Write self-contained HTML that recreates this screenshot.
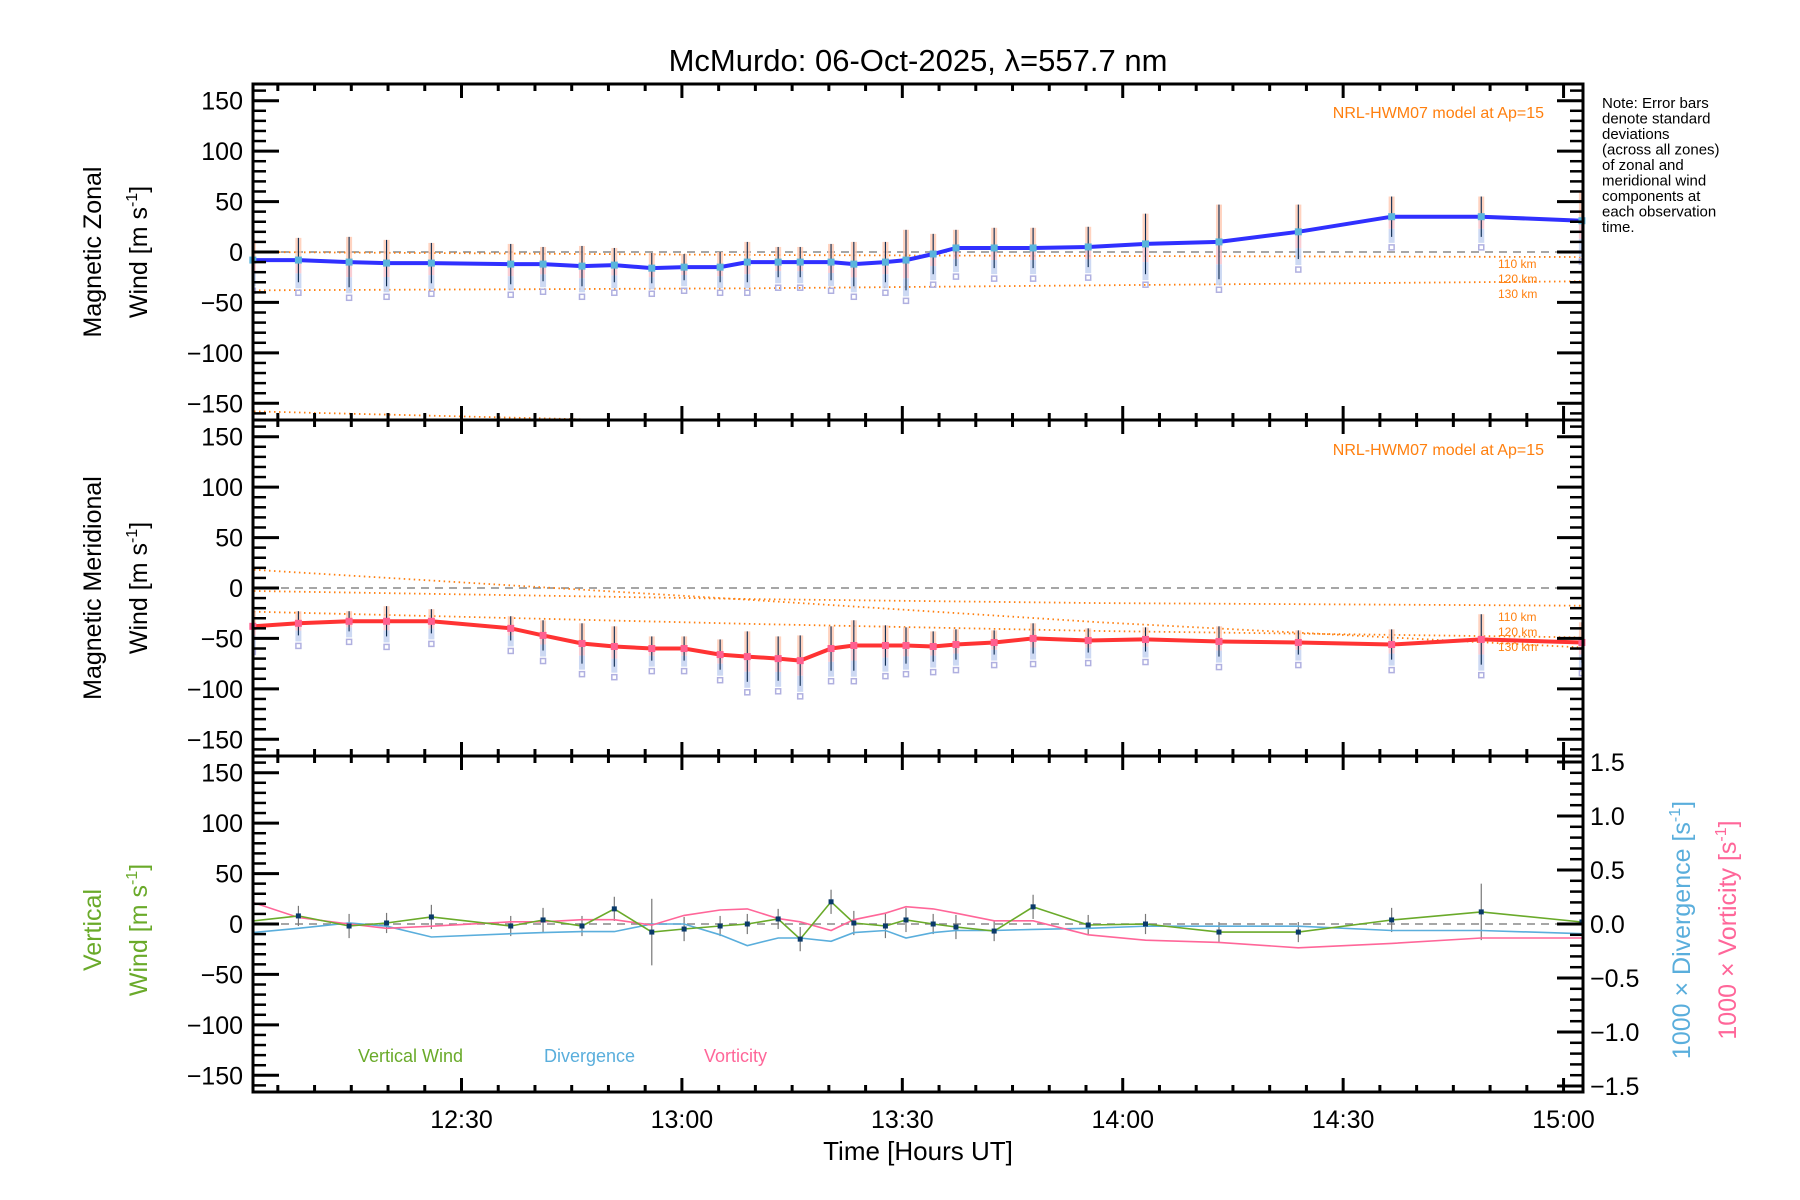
<!DOCTYPE html>
<html><head><meta charset="utf-8">
<style>
html,body{margin:0;padding:0;background:#fff;}
svg{display:block;font-family:"Liberation Sans",sans-serif;}
</style></head>
<body>
<svg id="chart" width="1800" height="1200" viewBox="0 0 1800 1200" xmlns="http://www.w3.org/2000/svg">
<rect x="0" y="0" width="1800" height="1200" fill="#fff"/>
<text x="918" y="71" font-size="31" text-anchor="middle" fill="#000">McMurdo: 06-Oct-2025, λ=557.7 nm</text>
<g font-size="15" fill="#000">
<text x="1602" y="108">Note: Error bars</text>
<text x="1602" y="123.5">denote standard</text>
<text x="1602" y="139">deviations</text>
<text x="1602" y="154.5">(across all zones)</text>
<text x="1602" y="170">of zonal and</text>
<text x="1602" y="185.5">meridional wind</text>
<text x="1602" y="201">components at</text>
<text x="1602" y="216.5">each observation</text>
<text x="1602" y="232">time.</text>
</g>
<g id="plots"></g>
</svg>
<script>
// ---------- data ----------
const times = [1.6,7.8,14.7,19.8,25.9,36.7,41.1,46.4,50.8,55.9,60.3,65.2,68.9,73.1,76.1,80.3,83.4,87.7,90.5,94.2,97.3,102.5,107.8,115.3,123.1,133.1,143.9,156.6,168.8,182.5];
const zonal = [-8,-8,-10,-11,-11,-12,-12,-14,-13,-16,-15,-15,-10,-10,-10,-10,-12,-10,-8,-2,4,4,4,5,8,10,20,35,35,31];
const zonalErr = [20,22,25,23,20,20,17,20,17,15,13,15,20,15,15,18,22,20,30,20,18,20,20,20,30,37,27,20,20,30];
const merid = [-38,-35,-33,-33,-33,-40,-47,-55,-58,-60,-60,-66,-68,-70,-72,-60,-57,-57,-57,-58,-56,-54,-50,-52,-51,-53,-54,-56,-51,-54];
const meridErr = [15,12,10,15,12,12,15,20,20,12,12,15,25,22,25,22,25,20,18,15,15,12,15,12,12,15,12,15,25,20];
const vertical = [3,8,-2,1,7,-2,4,-2,15,-8,-5,-2,0,5,-15,22,1,-2,4,0,-3,-7,17,-1,0,-8,-8,4,12,2];
const vertErr = [0,10,12,10,12,10,12,10,12,33,12,10,10,10,12,12,12,12,12,10,12,10,12,10,10,10,10,12,28,10];
const divergence = [-0.08,-0.04,0.01,-0.02,-0.12,-0.09,-0.08,-0.07,-0.07,0.0,0.0,-0.1,-0.2,-0.13,-0.13,-0.16,-0.08,-0.06,-0.13,-0.08,-0.06,-0.06,-0.05,-0.04,-0.02,-0.02,-0.02,-0.06,-0.06,-0.09];
const vorticity = [0.2,0.06,0.0,-0.04,-0.02,0.02,0.02,0.04,0.04,-0.01,0.08,0.13,0.14,0.05,0.02,-0.06,0.04,0.1,0.16,0.14,0.1,0.03,0.03,-0.1,-0.15,-0.17,-0.22,-0.18,-0.13,-0.13];
// model curves (NRL-HWM07)
const modelTimes = [1.76,69.8,116.9,182.6];
const zonal110 = [0,-3,-4,-5];
const zonal120 = [-38,-36,-33,-29];
const zonal130 = [-158,-170,-180,-190];
const merid110 = [-3,-11,-15,-17.5];
const merid120 = [-23.5,-35.7,-42.6,-49];
const merid130 = [18,-12,-34,-59];
const yTicks = [150,100,50,0,-50,-100,-150];
const yTickLabels = ["150","100","50","0","−50","−100","−150"];
const rTicks = [1.5,1.0,0.5,0.0,-0.5,-1.0,-1.5];
const rTickLabels = ["1.5","1.0","0.5","0.0","−0.5","−1.0","−1.5"];
const xTicks = [30,60,90,120,150,180];
const xTickLabels = ["12:30","13:00","13:30","14:00","14:30","15:00"];

// ---------- scales ----------
const L = 253, R = 1583, PH = 336;
const tops = [84,420,756];
function X(m){ return 461.5 + (m-30)*7.347; }
function Y(v,p){ return tops[p] + 168 - v*1.0087; }
function YR(r){ return tops[2] + 168 - r*108; }

const NS = "http://www.w3.org/2000/svg";
const root = document.getElementById('plots');
function mk(tag, attrs, parent){
  const e = document.createElementNS(NS, tag);
  for (const k in attrs) e.setAttribute(k, attrs[k]);
  (parent||root).appendChild(e);
  return e;
}
function pts(xs, ys, p, right){
  return xs.map((m,i)=> X(m).toFixed(1)+','+(right?YR(ys[i]):Y(ys[i],p)).toFixed(1)).join(' ');
}

const defs = mk('defs',{});
for (let p=0;p<3;p++){
  const cp = mk('clipPath',{id:'clip'+p},defs);
  mk('rect',{x:L,y:tops[p],width:R-L,height:PH},cp);
}

for (let p=0;p<3;p++){
  const z = mk('line',{x1:L,x2:R,y1:Y(0,p),y2:Y(0,p),stroke:'#888',"stroke-width":1.5,"stroke-dasharray":"8,6"});
  
  
}
function modelLine(vals,p,name){
  const e = mk('polyline',{points:pts(modelTimes,vals,p),fill:'none',stroke:'#ff7f0e',"stroke-width":1.8,"stroke-dasharray":"1.5,3.5","clip-path":'url(#clip'+p+')'});
  
  
}
modelLine(zonal110,0,'zonal-model-110km');
modelLine(zonal120,0,'zonal-model-120km');
modelLine(zonal130,0,'zonal-model-130km');
modelLine(merid110,1,'meridional-model-110km');
modelLine(merid120,1,'meridional-model-120km');
modelLine(merid130,1,'meridional-model-130km');

function errBars(vals, errs, p, name){
  const g = mk('g',{"clip-path":'url(#clip'+p+')'});
  
  
  times.forEach((m,i)=>{
    const x = X(m), y1 = Y(vals[i]+errs[i],p), y2 = Y(vals[i]-errs[i],p);
    mk('rect',{x:x-3,y:y1,width:6,height:(y2-y1)*0.5,fill:'#ffc8b0',opacity:0.8},g);
    mk('rect',{x:x-3,y:y1+(y2-y1)*0.5,width:6,height:(y2-y1)*0.3,fill:'#f8c0c8',opacity:0.8},g);
    mk('rect',{x:x-3,y:y1+(y2-y1)*0.8,width:6,height:(y2-y1)*0.2+6,fill:'#c0d0f0',opacity:0.8},g);
    mk('rect',{x:x-2.5,y:y2+8,width:5,height:5,fill:'none',stroke:'#b0b0e0',"stroke-width":1.5},g);
    mk('line',{x1:x,x2:x,y1:y1,y2:y2,stroke:'#0a2a50',"stroke-width":1.1},g);
  });
  return g;
}
errBars(zonal, zonalErr, 0, 'zonal-error-bars');
errBars(merid, meridErr, 1, 'meridional-error-bars');

const zl = mk('polyline',{points:pts(times,zonal,0),fill:'none',stroke:'#3030ff',"stroke-width":4,"clip-path":'url(#clip0)'});


const ml = mk('polyline',{points:pts(times,merid,1),fill:'none',stroke:'#ff3333',"stroke-width":4,"clip-path":'url(#clip1)'});


times.forEach((m,i)=>{
  const d1 = mk('rect',{x:X(m)-3.5,y:Y(zonal[i],0)-3.5,width:7,height:7,fill:'#5ab4dc'});
  
  
  const d2 = mk('rect',{x:X(m)-3.5,y:Y(merid[i],1)-3.5,width:7,height:7,fill:'#ff6090'});
  
  
});

const vg = mk('g',{});


times.forEach((m,i)=>{
  if (!vertErr[i]) return;
  mk('line',{x1:X(m),x2:X(m),y1:Y(vertical[i]+vertErr[i],2),y2:Y(vertical[i]-vertErr[i],2),stroke:'#777',"stroke-width":1.2},vg);
});
const dl = mk('polyline',{points:pts(times,divergence,2,true),fill:'none',stroke:'#5aaedc',"stroke-width":1.6});


const vl = mk('polyline',{points:pts(times,vorticity,2,true),fill:'none',stroke:'#ff6699',"stroke-width":1.6});


const gl = mk('polyline',{points:pts(times,vertical,2),fill:'none',stroke:'#6aaa2a',"stroke-width":1.6});


times.forEach((m,i)=>{
  if (i===0) return;
  const s = mk('rect',{x:X(m)-2.5,y:Y(vertical[i],2)-2.5,width:5,height:5,fill:'#0a3a6a'});
  
  
});

for (let p=0;p<3;p++){
  const ax = mk('g',{stroke:'#000'});
  
  
  const T = tops[p], B = T+PH;
  mk('rect',{x:L,y:T,width:R-L,height:PH,fill:'none',"stroke-width":3},ax);
  for (let v=-160; v<=160; v+=10){
    const y = Y(v,p), major = v%50===0;
    const len = major?26:13;
    mk('line',{x1:L,x2:L+len,y1:y,y2:y,"stroke-width":major?3:2.5},ax);
    if (p<2) mk('line',{x1:R,x2:R-len,y1:y,y2:y,"stroke-width":major?3:2.5},ax);
  }
  if (p===2){
    for (let r=-15; r<=15; r++){
      const y = YR(r/10), major = r%5===0;
      mk('line',{x1:R,x2:R-(major?26:13),y1:y,y2:y,"stroke-width":major?3:2.5},ax);
    }
  }
  for (let m=5; m<=180; m+=5){
    const x = X(m), major = m%30===0;
    const len = major?14:7;
    mk('line',{x1:x,x2:x,y1:T,y2:T+len,"stroke-width":3},ax);
    mk('line',{x1:x,x2:x,y1:B,y2:B-len,"stroke-width":3},ax);
  }
  yTicks.forEach((v,i)=>{
    const t = mk('text',{x:243,y:Y(v,p)+9,"font-size":25,"text-anchor":"end",fill:'#000',stroke:'none'});
    t.textContent = yTickLabels[i];
    
    
  });
}
rTicks.forEach((r,i)=>{
  const t = mk('text',{x:1590,y:YR(r)+9,"font-size":25,fill:'#000'});
  t.textContent = rTickLabels[i];
  
  
});
xTicks.forEach((m,i)=>{
  const t = mk('text',{x:X(m),y:1128,"font-size":25,"text-anchor":"middle",fill:'#000'});
  t.textContent = xTickLabels[i];
  
  
});
</script>
<svg style="position:absolute;left:0;top:0" width="1800" height="1200" xmlns="http://www.w3.org/2000/svg" font-family="Liberation Sans, sans-serif">
<text x="918" y="1160" font-size="26" text-anchor="middle">Time [Hours UT]</text>
<g fill="#ff7f0e">
<text x="1544" y="118" font-size="16" text-anchor="end">NRL-HWM07 model at Ap=15</text>
<text x="1544" y="455" font-size="16" text-anchor="end">NRL-HWM07 model at Ap=15</text>
<text x="1498" y="268" font-size="12">110 km</text>
<text x="1498" y="283" font-size="12">120 km</text>
<text x="1498" y="298" font-size="12">130 km</text>
<text x="1498" y="621" font-size="12">110 km</text>
<text x="1498" y="636" font-size="12">120 km</text>
<text x="1498" y="651" font-size="12">130 km</text>
</g>
<text transform="translate(101,252) rotate(-90)" font-size="25" text-anchor="middle">Magnetic Zonal</text>
<text transform="translate(147,252) rotate(-90)" font-size="25" text-anchor="middle">Wind [m s<tspan dy="-10" font-size="16">-1</tspan><tspan dy="10">]</tspan></text>
<text transform="translate(101,588) rotate(-90)" font-size="25" text-anchor="middle">Magnetic Meridional</text>
<text transform="translate(147,588) rotate(-90)" font-size="25" text-anchor="middle">Wind [m s<tspan dy="-10" font-size="16">-1</tspan><tspan dy="10">]</tspan></text>
<text transform="translate(101,930) rotate(-90)" font-size="25" text-anchor="middle" fill="#6aaa2a">Vertical</text>
<text transform="translate(147,930) rotate(-90)" font-size="25" text-anchor="middle" fill="#6aaa2a">Wind [m s<tspan dy="-10" font-size="16">-1</tspan><tspan dy="10">]</tspan></text>
<text transform="translate(1690,930) rotate(-90)" font-size="25" text-anchor="middle" fill="#5aaedc">1000 × Divergence [s<tspan dy="-10" font-size="16">-1</tspan><tspan dy="10">]</tspan></text>
<text transform="translate(1736,930) rotate(-90)" font-size="25" text-anchor="middle" fill="#ff6699">1000 × Vorticity [s<tspan dy="-10" font-size="16">-1</tspan><tspan dy="10">]</tspan></text>
<text x="358" y="1062" font-size="18" fill="#6aaa2a">Vertical Wind</text>
<text x="544" y="1062" font-size="18" fill="#5aaedc">Divergence</text>
<text x="704" y="1062" font-size="18" fill="#ff6699">Vorticity</text>
</svg>
</body></html>
